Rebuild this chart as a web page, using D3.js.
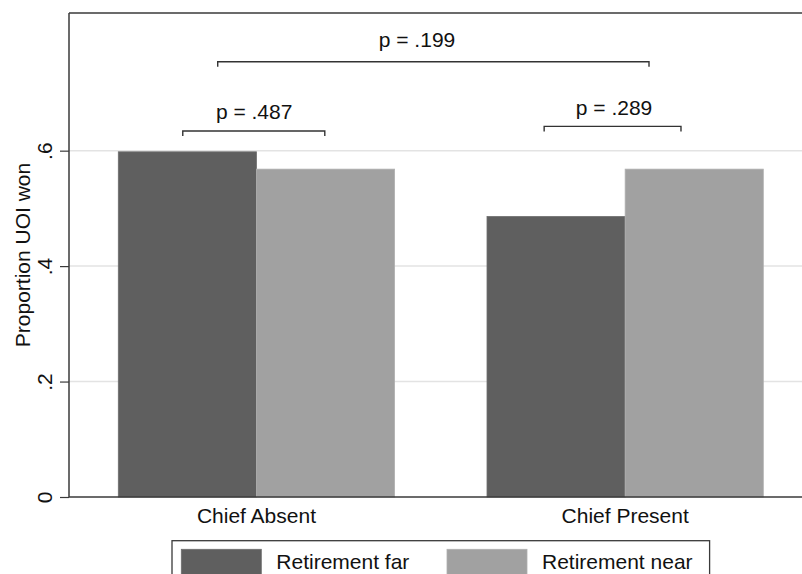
<!DOCTYPE html>
<html>
<head>
<meta charset="utf-8">
<script src="https://cdn.jsdelivr.net/npm/d3@7"></script>
<style>
  body { margin: 0; background: #fff; }
  svg text { font-family: "Liberation Sans", Arial, Helvetica, sans-serif; fill: #111; }
</style>
</head>
<body>
<svg id="chart" width="802" height="574"></svg>
<script>
// data
const categories = ['Chief Absent', 'Chief Present'];
const seriesNames = ['Retirement far', 'Retirement near'];
const retirementFar = [0.598, 0.486];
const retirementNear = [0.568, 0.568];
const yTicks = [0, 0.2, 0.4, 0.6];
const yTickLabels = ['0', '.2', '.4', '.6'];

// p-value brackets, x on the 0-100 category axis, y in proportion units
const bracketLabels = ['p = .487', 'p = .289', 'p = .199'];
const bracketFrom = [15.3, 63.9, 20.0];
const bracketTo = [34.4, 82.3, 78.0];
const bracketY = [0.634, 0.642, 0.754];
const bracketLabelX = [24.9, 73.3, 46.8];
const bracketLabelY = [0.655, 0.662, 0.779];

const colors = ['#5f5f5f', '#a1a1a1'];
const strokeColors = ['#6e6e6e', '#b0b0b0'];

const svg = d3.select('#chart');
const plot = {left: 69, right: 812.6, top: 13, bottom: 497};

const y = d3.scaleLinear()
    .domain([0, 0.8385])
    .range([plot.bottom, plot.top]);

const x0 = d3.scaleBand()
    .domain(categories)
    .range([plot.left, plot.right])
    .paddingInner(0.2506)
    .paddingOuter(0.1337);

const x1 = d3.scaleBand()
    .domain(seriesNames)
    .range([0, x0.bandwidth()]);

const xAnn = d3.scaleLinear()
    .domain([0, 100])
    .range([plot.left, plot.right]);

// gridlines
svg.append('g')
    .selectAll('line')
    .data(yTicks.filter(d => d > 0))
    .enter()
    .append('line')
    .attr('x1', plot.left)
    .attr('x2', plot.right)
    .attr('y1', d => y(d))
    .attr('y2', d => y(d))
    .attr('stroke', '#e3e3e3')
    .attr('stroke-width', 1.5);

// bars
const rows = categories.map((c, i) => ({
    cat: c,
    values: [retirementFar[i], retirementNear[i]]
}));

const groups = svg.append('g')
    .selectAll('g')
    .data(rows)
    .enter()
    .append('g')
    .attr('transform', d => `translate(${x0(d.cat)},0)`);

groups.selectAll('rect')
    .data(d => d.values.map((v, j) => ({series: seriesNames[j], value: v, j: j})))
    .enter()
    .append('rect')
    .attr('x', d => x1(d.series))
    .attr('y', d => y(d.value))
    .attr('width', x1.bandwidth())
    .attr('height', d => y(0) - y(d.value))
    .attr('fill', d => colors[d.j])
    .attr('stroke', d => strokeColors[d.j])
    .attr('stroke-width', 0.8);

// plot frame: top border, left axis, bottom axis
const frameColor = '#3a3a3a';
svg.append('line')
    .attr('x1', plot.left).attr('x2', plot.right)
    .attr('y1', plot.top).attr('y2', plot.top)
    .attr('stroke', frameColor).attr('stroke-width', 1.5);

const yAxis = d3.axisLeft(y)
    .tickValues(yTicks)
    .tickSize(9)
    .tickFormat((d, i) => yTickLabels[i]);

const yAxisG = svg.append('g')
    .attr('transform', `translate(${plot.left},0)`)
    .call(yAxis);
yAxisG.select('.domain')
    .attr('d', `M0,${plot.top}V${plot.bottom}`)
    .attr('stroke', frameColor)
    .attr('stroke-width', 1.5);
yAxisG.selectAll('.tick line').attr('stroke', frameColor).attr('stroke-width', 1.2);
yAxisG.selectAll('.tick text')
    .attr('x', null).attr('dy', null)
    .attr('transform', 'translate(-17.5,0) rotate(-90)')
    .attr('text-anchor', 'middle')
    .attr('font-size', 21)
    .attr('font-family', null);

const xAxis = d3.axisBottom(x0).tickSize(0).tickPadding(0);
const xAxisG = svg.append('g')
    .attr('transform', `translate(0,${plot.bottom})`)
    .call(xAxis);
xAxisG.select('.domain')
    .attr('d', `M${plot.left},0H${plot.right}`)
    .attr('stroke', frameColor)
    .attr('stroke-width', 1.5);
xAxisG.selectAll('.tick text')
    .attr('dy', null)
    .attr('y', 26)
    .attr('font-size', 21)
    .attr('font-family', null);

// y title
svg.append('text')
    .attr('transform', `translate(29.5,${(plot.top + plot.bottom) / 2}) rotate(-90)`)
    .attr('text-anchor', 'middle')
    .attr('font-size', 21)
    .text('Proportion UOI won');

// brackets
const brackets = bracketLabels.map((l, i) => ({
    label: l, from: bracketFrom[i], to: bracketTo[i], y: bracketY[i],
    lx: bracketLabelX[i], ly: bracketLabelY[i]
}));

const bg = svg.append('g')
    .selectAll('g')
    .data(brackets)
    .enter()
    .append('g');

bg.append('path')
    .attr('d', d => `M${xAnn(d.from)},${y(d.y) + 5}V${y(d.y)}H${xAnn(d.to)}V${y(d.y) + 5}`)
    .attr('fill', 'none')
    .attr('stroke', '#333')
    .attr('stroke-width', 1.4);

bg.append('text')
    .attr('x', d => xAnn(d.lx))
    .attr('y', d => y(d.ly))
    .attr('text-anchor', 'middle')
    .attr('font-size', 21)
    .text(d => d.label);

// legend
const legendW = 537.6;
const legendX = (plot.left + plot.right) / 2 - legendW / 2;
const legend = svg.append('g').attr('transform', `translate(${legendX},540.7)`);
legend.append('rect')
    .attr('width', legendW)
    .attr('height', 60)
    .attr('fill', '#fff')
    .attr('stroke', '#3a3a3a')
    .attr('stroke-width', 1.3);

const legendCols = [9.3, 275];
const items = legend.selectAll('g.item')
    .data(seriesNames)
    .enter()
    .append('g')
    .attr('class', 'item')
    .attr('transform', (d, i) => `translate(${legendCols[i]},8.6)`);
items.append('rect')
    .attr('width', 80)
    .attr('height', 26)
    .attr('fill', (d, i) => colors[i])
    .attr('stroke', (d, i) => strokeColors[i])
    .attr('stroke-width', 0.8);
items.append('text')
    .attr('x', 95)
    .attr('y', 20)
    .attr('font-size', 21)
    .text(d => d);
</script>
</body>
</html>
